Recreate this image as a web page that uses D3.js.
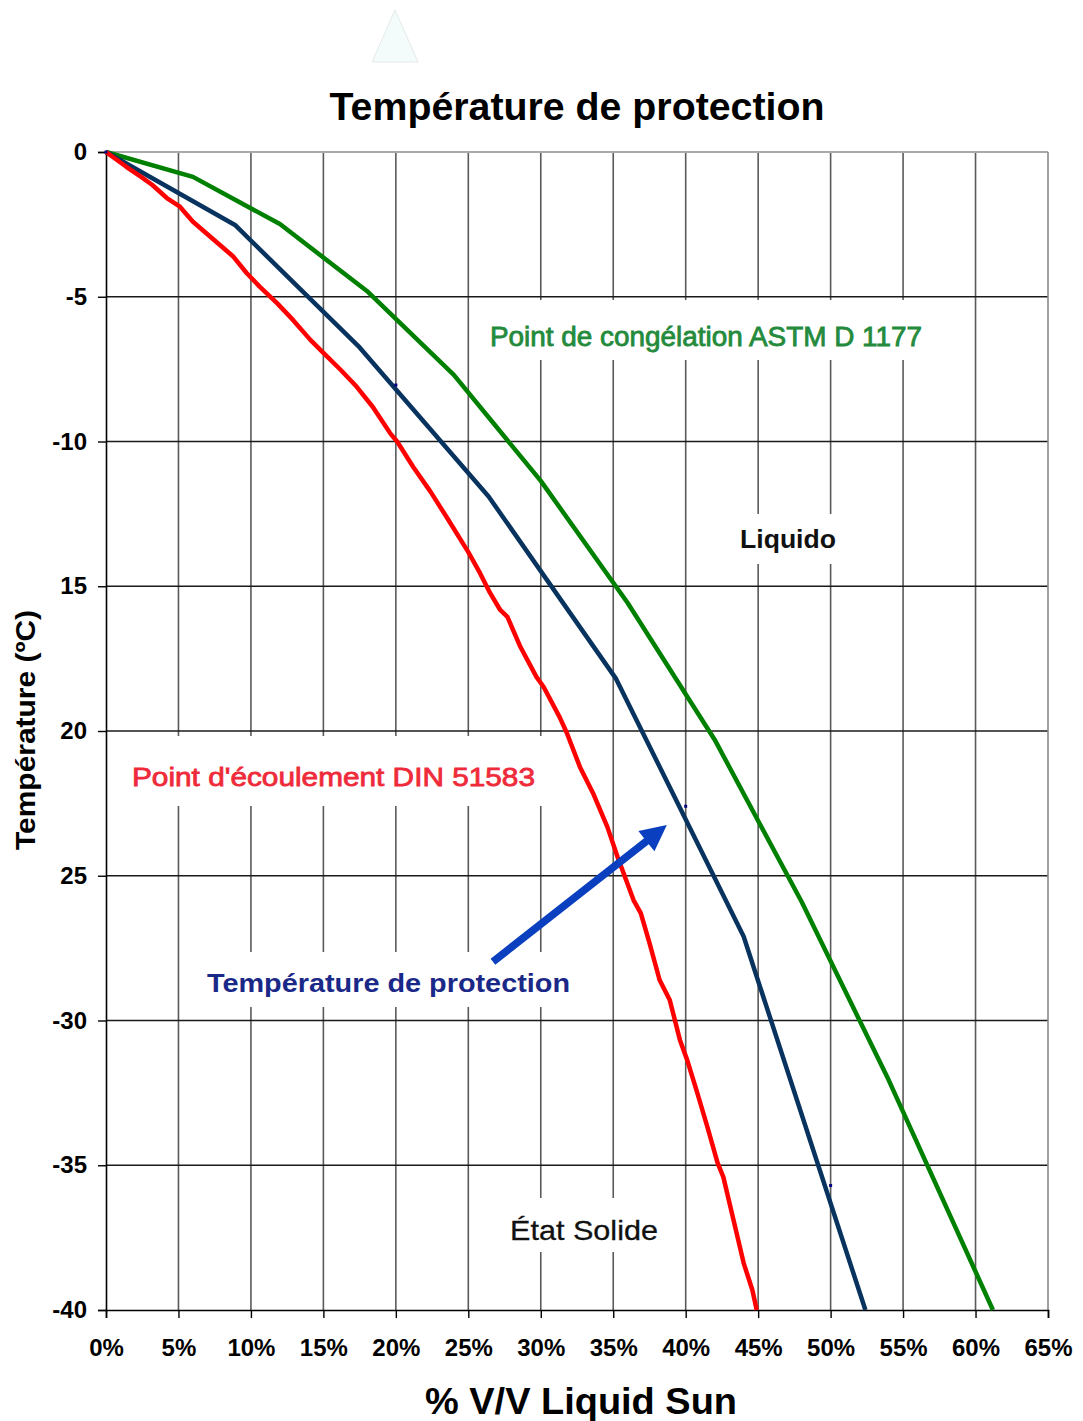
<!DOCTYPE html>
<html>
<head>
<meta charset="utf-8">
<script src="https://cdn.jsdelivr.net/npm/d3@7"></script>
<style>
  html, body { margin: 0; padding: 0; background: #fff; }
  svg { display: block; }
  text { font-family: "Liberation Sans", Arial, sans-serif; }
</style>
</head>
<body>
<script>
// ---------- DATA ----------
const xTicks = [0, 5, 10, 15, 20, 25, 30, 35, 40, 45, 50, 55, 60, 65];
const xTickLabels = ["0%", "5%", "10%", "15%", "20%", "25%", "30%", "35%", "40%", "45%", "50%", "55%", "60%", "65%"];
const yTicks = [0, -5, -10, -15, -20, -25, -30, -35, -40];
const yTickLabels = ["0", "-5", "-10", "15", "20", "25", "-30", "-35", "-40"];

// Point de congélation ASTM D 1177 (green)
const greenX = [0, 6, 12, 18, 24, 30, 36, 42, 48, 54, 61.2];
const greenT = [0, -0.86, -2.49, -4.80, -7.70, -11.36, -15.58, -20.3, -25.9, -32.05, -40];

// Température de protection (navy)
const blueX = [0, 8.9, 17.5, 26.4, 35.2, 44.0, 52.4];
const blueT = [0, -2.52, -6.75, -11.9, -18.2, -27.1, -40];
const blueMarkX = [0, 20, 40, 50];
const blueMarkT = [0, -8.05, -22.6, -35.7];

// Point d'écoulement DIN 51583 (red)
const redX = [0, 1.4, 2.4, 3.2, 4.2, 5.1, 6.0, 7.2, 8.8, 9.7, 10.6, 11.8, 12.9, 14.1, 15.0, 16.2, 17.3, 18.4, 19.6, 20.1,
  21.2, 22.4, 23.5, 25.0, 25.8, 26.5, 27.2, 27.7, 28.6, 29.7, 30.2, 31.3, 31.8, 32.7, 33.6, 34.6, 35.3,
  36.4, 36.9, 37.5, 38.2, 38.9, 39.6, 40.1, 40.8, 41.5, 42.2, 42.6, 43.3, 44.0, 44.6, 44.9];
const redT = [0, -0.51, -0.85, -1.14, -1.59, -1.89, -2.41, -2.93, -3.62, -4.18, -4.65, -5.22, -5.80, -6.49, -6.94, -7.53, -8.11, -8.80, -9.71, -10.01,
  -10.88, -11.74, -12.61, -13.82, -14.54, -15.23, -15.82, -16.06, -17.10, -18.13, -18.48, -19.52, -20.07, -21.24, -22.14, -23.32, -24.35,
  -25.84, -26.29, -27.32, -28.60, -29.29, -30.67, -31.36, -32.50, -33.68, -34.92, -35.41, -36.89, -38.38, -39.31, -40.0];

// Annotation arrow (data coords): tail -> tip
const arrowFrom = [26.7, -27.97];
const arrowTo = [38.7, -23.25];

// ---------- LAYOUT ----------
const W = 1083, H = 1421;
const svg = d3.select("body").append("svg").attr("width", W).attr("height", H);
svg.append("rect").attr("width", W).attr("height", H).attr("fill", "#fff");

const x = d3.scaleLinear().domain([0, 65]).range([106, 1048]);
const y = d3.scaleLinear().domain([0, -40]).range([152, 1310]);

// faint triangle at the top
svg.append("path")
  .attr("d", "M395,10 L372,62 L418,62 Z")
  .attr("fill", "#f3fbfb").attr("stroke", "#e6eaea").attr("stroke-width", 1);

// Title
svg.append("text").attr("x", 577).attr("y", 120)
  .attr("text-anchor", "middle").attr("font-size", 38).attr("font-weight", "bold")
  .attr("textLength", 495).attr("lengthAdjust", "spacingAndGlyphs")
  .attr("fill", "#000").text("Température de protection");

// Grid
const grid = svg.append("g");
grid.selectAll("line.v").data(xTicks.slice(1, -1)).join("line")
  .attr("x1", d => x(d)).attr("x2", d => x(d)).attr("y1", y(0)).attr("y2", y(-40))
  .attr("stroke", "#5a5a5a").attr("stroke-width", 1.6);
grid.selectAll("line.h").data(yTicks.slice(1, -1)).join("line")
  .attr("x1", x(0)).attr("x2", x(65)).attr("y1", d => y(d)).attr("y2", d => y(d))
  .attr("stroke", "#1a1a1a").attr("stroke-width", 1.4);
// top + right border (grey)
grid.append("line").attr("x1", x(0)).attr("x2", x(65)).attr("y1", y(0)).attr("y2", y(0))
  .attr("stroke", "#aaaaaa").attr("stroke-width", 2);
grid.append("line").attr("x1", x(65)).attr("x2", x(65)).attr("y1", y(0)).attr("y2", y(-40))
  .attr("stroke", "#8a8a8a").attr("stroke-width", 1.6);

// White label backgrounds interrupting the grid
const bgs = [
  [478, 300, 454, 60],
  [730, 514, 116, 50],
  [116, 736, 442, 70],
  [195, 952, 388, 55],
  [498, 1198, 170, 54]
];
svg.selectAll("rect.bg").data(bgs).join("rect")
  .attr("x", d => d[0]).attr("y", d => d[1]).attr("width", d => d[2]).attr("height", d => d[3])
  .attr("fill", "#fff");

// Axes
const xAxis = d3.axisBottom(x).tickValues(xTicks).tickFormat((d, i) => xTickLabels[i]).tickSize(8).tickPadding(21);
const gx = svg.append("g").attr("transform", `translate(0,${y(-40)})`).call(xAxis);
gx.select(".domain").attr("stroke", "#000").attr("stroke-width", 1.6);
gx.selectAll(".tick line").attr("stroke", "#000").attr("stroke-width", 1.4);
gx.selectAll(".tick text").attr("font-size", 24).attr("font-weight", "bold").attr("fill", "#000")
  .attr("font-family", "Liberation Sans, Arial, sans-serif");

const yAxis = d3.axisLeft(y).tickValues(yTicks).tickFormat((d, i) => yTickLabels[i]).tickSize(8).tickPadding(11);
const gy = svg.append("g").attr("transform", `translate(${x(0)},0)`).call(yAxis);
gy.select(".domain").attr("stroke", "#000").attr("stroke-width", 1.6);
gy.selectAll(".tick line").attr("stroke", "#000").attr("stroke-width", 1.4);
gy.selectAll(".tick text").attr("font-size", 24).attr("font-weight", "bold").attr("fill", "#000")
  .attr("font-family", "Liberation Sans, Arial, sans-serif");

// Axis titles
svg.append("text").attr("x", 581).attr("y", 1414)
  .attr("text-anchor", "middle").attr("font-size", 37).attr("font-weight", "bold")
  .attr("textLength", 312).attr("lengthAdjust", "spacingAndGlyphs")
  .attr("fill", "#000").text("% V/V Liquid Sun");
svg.append("text").attr("transform", "translate(35,730) rotate(-90)")
  .attr("text-anchor", "middle").attr("font-size", 28).attr("font-weight", "bold")
  .attr("textLength", 240).attr("lengthAdjust", "spacingAndGlyphs")
  .attr("fill", "#000").text("Température (ºC)");

// Lines
const line = d3.line().x(d => x(d[0])).y(d => y(d[1]));
const series = [
  { xs: greenX, ts: greenT, color: "#008000" },
  { xs: blueX, ts: blueT, color: "#08335f" },
  { xs: redX, ts: redT, color: "#ff0000" }
];
series.forEach(s => {
  svg.append("path").datum(s.xs.map((v, i) => [v, s.ts[i]]))
    .attr("d", line).attr("fill", "none").attr("stroke", s.color)
    .attr("stroke-width", 4.5).attr("stroke-linejoin", "round").attr("stroke-linecap", "butt");
});
svg.selectAll("rect.mk").data(blueMarkX.map((v, i) => [v, blueMarkT[i]])).join("rect")
  .attr("x", d => x(d[0]) - 1.5).attr("y", d => y(d[1]) - 1.5).attr("width", 3).attr("height", 3)
  .attr("fill", "#000080");

// Labels
function label(txt, xx, yy, size, weight, color, len, sw) {
  svg.append("text").attr("x", xx).attr("y", yy)
    .attr("font-size", size).attr("font-weight", weight).attr("fill", color)
    .attr("stroke", color).attr("stroke-width", sw)
    .attr("textLength", len).attr("lengthAdjust", "spacingAndGlyphs").text(txt);
}
label("Point de congélation ASTM D 1177", 490, 346, 27, "normal", "#248a3c", 432, 0.8);
label("Liquido", 740, 548, 25, "bold", "#111", 96, 0);
label("Point d'écoulement DIN 51583", 132, 786, 26, "normal", "#ef2a3a", 403, 0.8);
label("Température de protection", 207, 992, 25, "bold", "#1a2888", 363, 0);
label("État Solide", 510, 1240, 28, "normal", "#111", 148, 0.3);

// Arrow
(function () {
  const x1 = x(arrowFrom[0]), y1 = y(arrowFrom[1]), x2 = x(arrowTo[0]), y2 = y(arrowTo[1]);
  const dx = x2 - x1, dy = y2 - y1, L = Math.hypot(dx, dy);
  const ux = dx / L, uy = dy / L, nx = -uy, ny = ux;
  const hl = 26, hw = 13, sw = 3.8;
  const bx = x2 - ux * hl, by = y2 - uy * hl;
  const pts = [
    [x1 + nx * sw, y1 + ny * sw], [bx + nx * sw, by + ny * sw], [bx + nx * hw, by + ny * hw],
    [x2, y2], [bx - nx * hw, by - ny * hw], [bx - nx * sw, by - ny * sw], [x1 - nx * sw, y1 - ny * sw]
  ];
  svg.append("path").attr("d", "M" + pts.map(p => p.join(",")).join("L") + "Z").attr("fill", "#0a40c0");
})();
</script>
</body>
</html>
